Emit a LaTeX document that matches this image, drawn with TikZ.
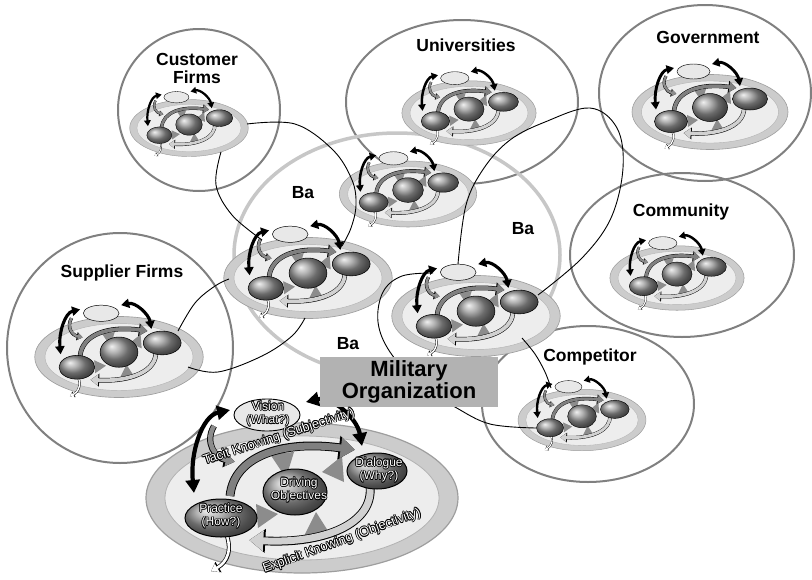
\documentclass[tikz,border=0pt]{standalone}
\usepackage{fontspec}
\setmainfont{Liberation Sans}
\usetikzlibrary{arrows.meta}

\tikzset{
  grp/.style={draw=black!50, line width=2pt},
  bacirc/.style={draw=black!22, line width=3.5pt},
  lnk/.style={draw=black, line width=0.9pt},
  disco/.style={fill=black!20, draw=black!38, line width=1.2pt},
  disci/.style={fill=black!7, draw=black!30, line width=0.8pt},
  blob/.style={fill=black!45},
  ball/.style={shading=ball, ball color=black!40, draw=black, line width=1pt},
  vis/.style={fill=black!9, draw=black, line width=0.9pt},
  barrow/.style n args={3}{draw=black, line width=#1, arrows={Triangle[length=#2,width=#3]-Triangle[length=#2,width=#3]}},
  oarrow/.style n args={7}{preaction={draw=black, line width=#3, arrows={-Triangle[length=#6,width=#7]}},
    draw=#1, line width=#2, arrows={-Triangle[length=#4,width=#5]}, shorten >=1.3pt},
  lbl/.style={font=\bfseries\fontsize{17.5}{18}\selectfont, align=center, inner sep=0pt, text depth=0pt},
  stxt/.style={font=\fontsize{12}{13.5}\selectfont, align=center, inner sep=0pt},
  milbox/.style={fill=black!30, minimum width=178pt, minimum height=50pt, inner sep=0pt, align=center, font=\bfseries\fontsize{22}{20}\selectfont}
}

\newcommand{\unitbody}[1]{%
  \ifnum#1=1
    \def\uPX{-81}\def\uPY{20}\def\uPRX{36}\def\uPRY{19}%
    \def\uDX{-7}\def\uDY{-6}\def\uDRX{32}\def\uDRY{23}%
    \def\uQX{75}\def\uQY{-27}\def\uQRX{30}\def\uQRY{18}%
    \def\uVX{-35}\def\uVY{-83}\def\uVRX{33}\def\uVRY{16}%
    \def\uBW{4.2pt}\def\uBL{13pt}\def\uBH{14pt}%
  \else
    \def\uPX{-78}\def\uPY{19}\def\uPRX{33}\def\uPRY{22}%
    \def\uDX{0}\def\uDY{-9}\def\uDRX{35}\def\uDRY{28}%
    \def\uQX{80}\def\uQY{-26}\def\uQRX{35}\def\uQRY{22}%
    \def\uVX{-33}\def\uVY{-81}\def\uVRX{33}\def\uVRY{15}%
    \def\uBW{5.8pt}\def\uBL{15pt}\def\uBH{17pt}%
  \fi
  \path[disco] (0,0) ellipse [x radius=156, y radius=75];
  \path[disci] (0,0) ellipse [x radius=137, y radius=62];
  \fill[blob] (-32,-44) -- (-8,-46) -- (-16,-20) -- cycle;
  \fill[blob] (40,-42) -- (42,-16) -- (20,-26) -- cycle;
  \fill[blob] (-46,6) -- (-44,30) -- (-24,16) -- cycle;
  \fill[blob] (2,38) -- (28,36) -- (14,14) -- cycle;
  \draw[oarrow={black!50}{7pt}{8.8pt}{14pt}{20pt}{16pt}{23pt}] (-72,-2) .. controls (-68,-42) and (-20,-58) .. (54,-48);
  \draw[oarrow={black!18}{7pt}{8.8pt}{14pt}{20pt}{16pt}{23pt}] (68,-12) .. controls (72,26) and (22,46) .. (-54,42);
  \path[ball] (\uDX,\uDY) ellipse [x radius=\uDRX, y radius=\uDRY];
  \path[ball] (\uQX,\uQY) ellipse [x radius=\uQRX, y radius=\uQRY];
  \draw[oarrow={white}{2.6pt}{4.2pt}{7pt}{9pt}{8.5pt}{11.5pt}] (-78,30) .. controls (-68,52) and (-75,64) .. (-92,74);
  \path[ball] (\uPX,\uPY) ellipse [x radius=\uPRX, y radius=\uPRY];
  \path[vis] (\uVX,\uVY) ellipse [x radius=\uVRX, y radius=\uVRY];
  \draw[oarrow={black!45}{4.6pt}{6.2pt}{9pt}{12pt}{11pt}{15pt}] (-88,-72) .. controls (-98,-55) and (-86,-40) .. (-66,-36);
  \draw[barrow={\uBW}{\uBL}{\uBH}] (-72,-88) .. controls (-100,-82) and (-112,-45) .. (-108,-5);
  \draw[barrow={\uBW}{\uBL}{\uBH}] (4,-96) .. controls (30,-102) and (55,-80) .. (60,-52);
}
\newcommand{\unitat}[3]{\begin{scope}[transform canvas={shift={(#1,#2)},scale=#3}]\unitbody{0}\end{scope}}
\newcommand{\halotext}[4][0]{%
  \foreach \hx/\hy in {0.75/0,-0.75/0,0/0.75,0/-0.75,0.55/0.55,-0.55/0.55,0.55/-0.55,-0.55/-0.55}{%
    \node[stxt,text=black,rotate=#1] at ([shift={(\hx pt,\hy pt)}]#3) {#4};}%
  \node[stxt,text=white,rotate=#1] (#2) at (#3) {#4};}

\begin{document}
\begin{tikzpicture}[x=1pt,y=-1pt]
\useasboundingbox (0,0) rectangle (812,579);
\fill[white] (0,0) rectangle (812,579);

% group circles
\draw[grp] (199,110) ellipse [x radius=81, y radius=81];
\draw[grp] (462,102) ellipse [x radius=116, y radius=82];
\draw[grp] (705,93) ellipse [x radius=106, y radius=88];
\draw[grp] (682,255) ellipse [x radius=112, y radius=82];
\draw[grp] (588,404) ellipse [x radius=106, y radius=78];
\draw[grp] (120,348) ellipse [x radius=113, y radius=115];
\draw[bacirc] (397,255) ellipse [x radius=163, y radius=122];

% small units
\unitat{189}{128}{0.38}
\unitat{469}{113}{0.43}
\unitat{710}{112}{0.5}
\unitat{677}{278}{0.43}
\unitat{582}{420}{0.41}
\unitat{119}{357}{0.54}
\unitat{408}{194}{0.44}
\unitat{308}{278}{0.54}
\unitat{476}{316}{0.54}

% links
\draw[lnk] plot[smooth, tension=0.6] coordinates {(247,124) (295,124) (333,150) (352,180) (356,205) (351,228) (342,246)};
\draw[lnk] plot[smooth, tension=0.6] coordinates {(221,152) (216,185) (232,215) (262,240)};
\draw[lnk] plot[smooth, tension=0.6] coordinates {(178,331) (195,303) (215,286) (229,279)};
\draw[lnk] plot[smooth, tension=0.6] coordinates {(188,367) (218,372) (262,356) (292,336) (305,318)};
\draw[lnk] plot[smooth, tension=0.6] coordinates {(458,264) (466,205) (484,168) (510,140) (545,122) (590,108) (617,128) (623,168) (611,218) (582,258) (538,295)};
\draw[lnk] plot[smooth, tension=0.6] coordinates {(433,273) (402,276) (383,292) (378,322) (390,352) (420,385) (455,407) (490,424) (536,428)};
\draw[lnk] plot[smooth, tension=0.6] coordinates {(522,338) (535,354) (545,372) (551,388)};

% big unit
\begin{scope}[shift={(302,498)}]
\unitbody{1}
\end{scope}

% military box
\node[milbox] (mil) at (409,382) {Military\\Organization};

% big unit texts
\halotext{tvis}{268,414}{Vision\\(What?)}
\halotext{tprac}{221,516}{Practice\\(How?)}
\halotext{tdrv}{299,490}{Driving\\Objectives}
\halotext{tdia}{379,470}{Dialogue\\(Why?)}
\halotext[18]{ttac}{279,437}{{\fontsize{13}{15}\selectfont Tacit Knowing (Subjectivity)}}
\halotext[20]{texp}{342,541}{{\fontsize{13}{15}\selectfont Explicit Knowing (Objectivity)}}

% labels
\node[lbl] (lcust) at (197,68) {Customer\\Firms};
\node[lbl] (luni) at (466,45) {Universities};
\node[lbl] (lgov) at (708,37) {Government};
\node[lbl] (lcom) at (681,210) {Community};
\node[lbl] (lcmp) at (590,355) {Competitor};
\node[lbl] (lsup) at (122,271) {Supplier Firms};
\node[lbl] (ba1) at (303,192) {Ba};
\node[lbl] (ba2) at (523,228) {Ba};
\node[lbl] (ba3) at (348,343) {Ba};
\end{tikzpicture}
\end{document}
